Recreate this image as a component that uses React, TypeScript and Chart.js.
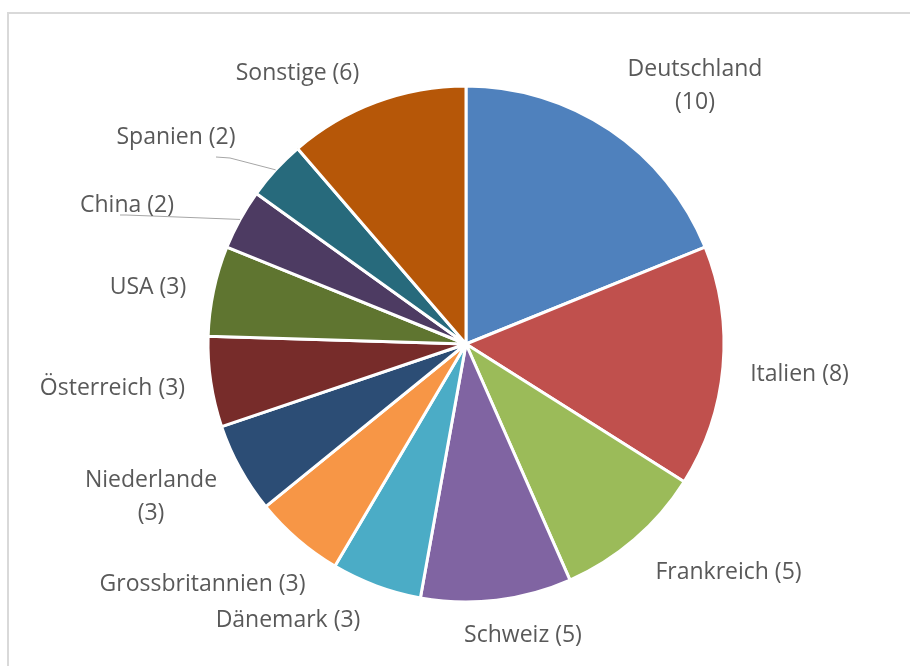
import React, { useEffect, useRef } from "react";
import { Chart, registerables } from "chart.js";

Chart.register(...registerables);

const countries = [
  "Deutschland",
  "Italien",
  "Frankreich",
  "Schweiz",
  "Dänemark",
  "Grossbritannien",
  "Niederlande",
  "Österreich",
  "USA",
  "China",
  "Spanien",
  "Sonstige",
];
const counts = [10, 8, 5, 5, 3, 3, 3, 3, 3, 2, 2, 6];
const colors = [
  "#4F81BD",
  "#C0504D",
  "#9BBB59",
  "#8064A2",
  "#4BACC6",
  "#F79646",
  "#2C4D75",
  "#772C2A",
  "#5F7530",
  "#4D3B62",
  "#276A7C",
  "#B65708",
];

// label layout: offsets from pie centre (px), line breaks, optional leader start
type LabelLayout = { dx: number; dy: number; wrap: boolean; leader?: { x: number; y: number }[] };
const labelLayout: LabelLayout[] = [
  { dx: 229, dy: -276, wrap: true },
  { dx: 333.5, dy: 29, wrap: false },
  { dx: 262.5, dy: 227, wrap: false },
  { dx: 57, dy: 290, wrap: false },
  { dx: -178, dy: 275, wrap: false },
  { dx: -263.5, dy: 239, wrap: false },
  { dx: -315, dy: 135, wrap: true },
  { dx: -353.5, dy: 43, wrap: false },
  { dx: -318, dy: -58, wrap: false },
  { dx: -339, dy: -140, wrap: false, leader: [{ x: -346, y: -129 }, { x: -340, y: -129 }] },
  { dx: -290, dy: -208, wrap: false, leader: [{ x: -250, y: -187 }, { x: -236, y: -186 }] },
  { dx: -168.5, dy: -272, wrap: false },
];

const FONT = "23px 'Open Sans', 'Noto Sans', sans-serif";
const LINE_H = 33;

const labelPlugin = {
  id: "pieLabels",
  beforeDraw(chart: any) {
    const ctx = chart.ctx;
    ctx.save();
    ctx.strokeStyle = "#d9d9d9";
    ctx.lineWidth = 2;
    ctx.beginPath();
    ctx.moveTo(8, 700);
    ctx.lineTo(8, 13);
    ctx.lineTo(950, 13);
    ctx.stroke();
    ctx.restore();
  },
  afterDraw(chart: any) {
    const ctx = chart.ctx;
    const meta = chart.getDatasetMeta(0);
    const labels = chart.data.labels as string[];
    const values = chart.data.datasets[0].data as number[];
    ctx.save();
    meta.data.forEach((arc: any, i: number) => {
      const { x, y, startAngle, endAngle, outerRadius } = arc.getProps(
        ["x", "y", "startAngle", "endAngle", "outerRadius"],
        true
      );
      const lay = labelLayout[i];
      const cx = x + lay.dx;
      const cy = y + lay.dy;
      if (lay.leader) {
        const mid = (startAngle + endAngle) / 2;
        const ex = x + Math.cos(mid) * outerRadius;
        const ey = y + Math.sin(mid) * outerRadius;
        ctx.strokeStyle = "#a6a6a6";
        ctx.lineWidth = 1;
        ctx.beginPath();
        ctx.moveTo(x + lay.leader[0].x, y + lay.leader[0].y);
        for (let k = 1; k < lay.leader.length; k++) ctx.lineTo(x + lay.leader[k].x, y + lay.leader[k].y);
        ctx.lineTo(ex, ey);
        ctx.stroke();
      }
      ctx.font = FONT;
      ctx.fillStyle = "#595959";
      ctx.textAlign = "center";
      ctx.textBaseline = "alphabetic";
      const lines = lay.wrap ? [labels[i], `(${values[i]})`] : [`${labels[i]} (${values[i]})`];
      lines.forEach((ln, k) => {
        ctx.fillText(ln, cx, cy + k * LINE_H + 8);
      });
    });
    ctx.restore();
  },
};

export default function App() {
  const ref = useRef<HTMLCanvasElement>(null);
  useEffect(() => {
    if (!ref.current) return;
    const chart = new Chart(ref.current, {
      type: "pie",
      data: {
        labels: countries,
        datasets: [
          {
            data: counts,
            backgroundColor: colors,
            borderColor: "#ffffff",
            borderWidth: 3,
          },
        ],
      },
      options: {
        responsive: false,
        animation: false,
        devicePixelRatio: 1,
        layout: { padding: { top: 84.5, bottom: 62.5, left: 206.5, right: 184.5 } },
        plugins: { legend: { display: false }, tooltip: { enabled: false } },
      },
      plugins: [labelPlugin],
    });
    return () => chart.destroy();
  }, []);
  return (
    <div style={{ position: "fixed", left: 0, top: 0, width: 910, height: 666, background: "#fff" }}>
      <canvas ref={ref} width={910} height={666} style={{ display: "block" }} />
    </div>
  );
}
